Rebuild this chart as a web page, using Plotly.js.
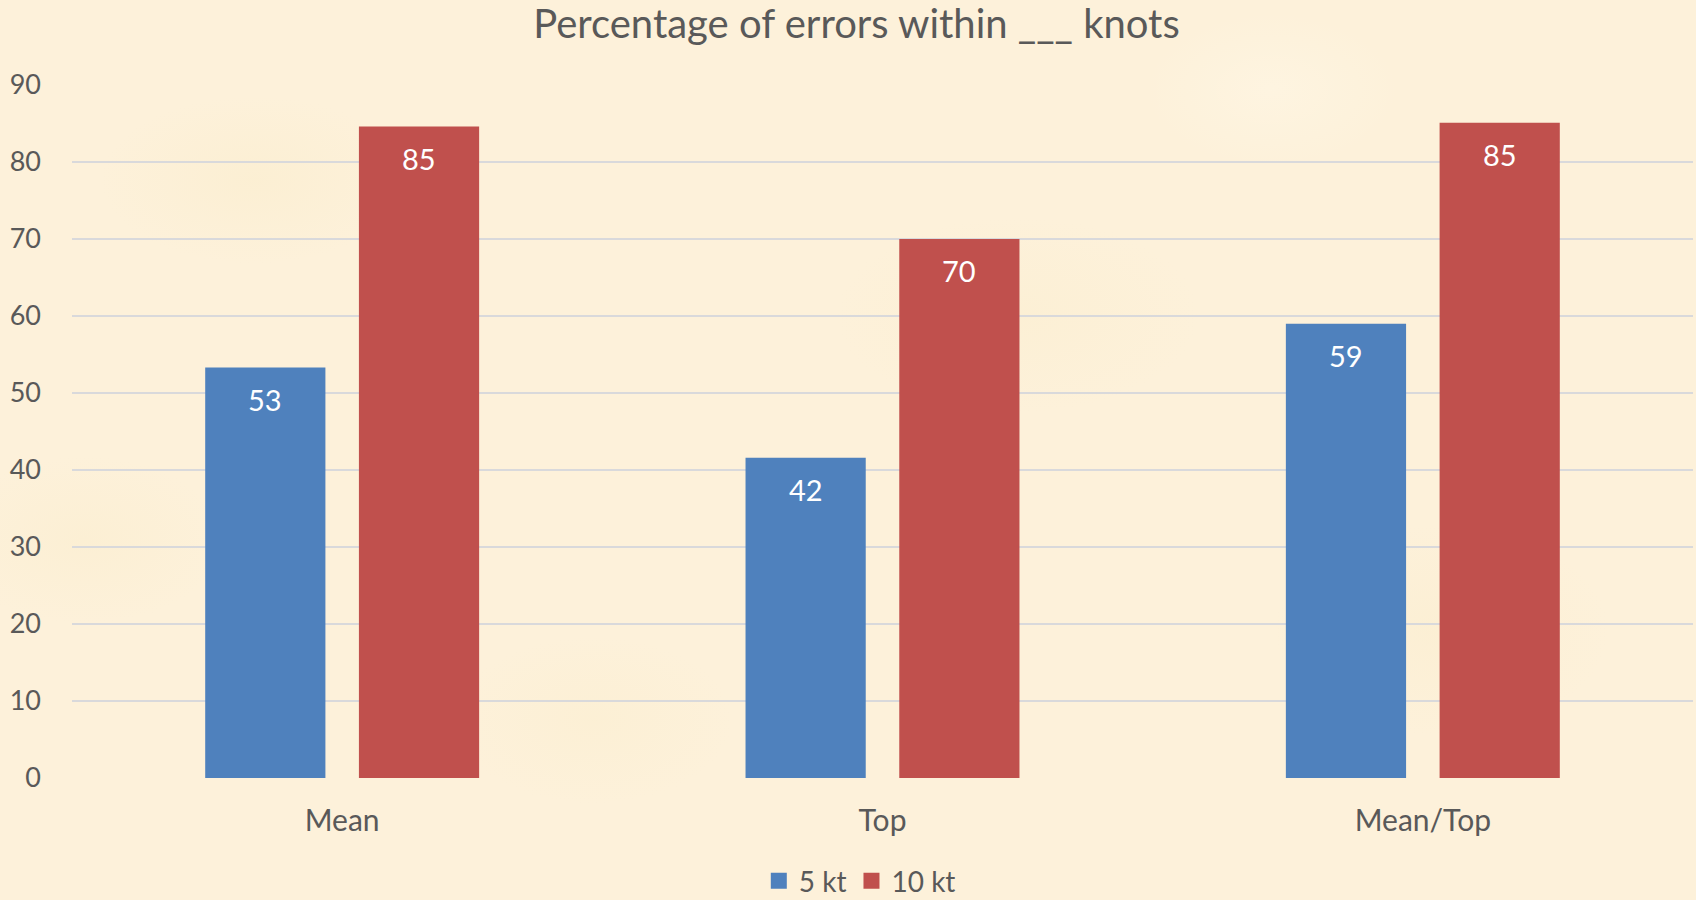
<!DOCTYPE html>
<html>
<head>
<meta charset="utf-8">
<script src="https://cdn.plot.ly/plotly-3.0.1.min.js"></script>
<style>
  html, body { margin: 0; padding: 0; }
  body {
    background-color: #FDF1DA;
    background-image:
      radial-gradient(ellipse 220px 120px at 15% 20%, rgba(247,232,190,0.25), rgba(247,232,190,0) 70%),
      radial-gradient(ellipse 260px 140px at 60% 35%, rgba(248,234,194,0.22), rgba(248,234,194,0) 70%),
      radial-gradient(ellipse 240px 150px at 85% 70%, rgba(247,232,190,0.22), rgba(247,232,190,0) 70%),
      radial-gradient(ellipse 200px 120px at 35% 80%, rgba(248,234,194,0.22), rgba(248,234,194,0) 70%),
      radial-gradient(ellipse 180px 110px at 75% 10%, rgba(255,248,232,0.45), rgba(255,248,232,0) 70%),
      radial-gradient(ellipse 200px 120px at 5% 60%, rgba(247,232,190,0.22), rgba(247,232,190,0) 70%);
  }
  #chart { width: 1696px; height: 900px; }
</style>
</head>
<body>
<div id="chart"></div>
<script>
const categories = ["Mean", "Top", "Mean/Top"];
const seriesNames = ["5 kt", "10 kt"];
const values5kt = [53.3, 41.6, 59.0];
const values10kt = [84.6, 70.0, 85.1];
const yTicks = [0, 10, 20, 30, 40, 50, 60, 70, 80, 90];

const FONT = "Lato, Open Sans, sans-serif";
const TEXT = "#595959";
const BLUE = "#4F81BD";
const RED = "#C0504D";
const BARGAP = 0.431;
const GROUPGAP = 0.218;

const traces = [
  { type: "bar", name: seriesNames[0], x: categories, y: values5kt,
    marker: { color: BLUE }, hoverinfo: "y", showlegend: false },
  { type: "bar", name: seriesNames[1], x: categories, y: values10kt,
    marker: { color: RED }, hoverinfo: "y", showlegend: false },
  // legend entries (square swatches)
  { type: "scatter", mode: "markers", name: seriesNames[0], x: [null], y: [null],
    marker: { symbol: "square", size: 16, color: BLUE }, showlegend: true },
  { type: "scatter", mode: "markers", name: seriesNames[1], x: [null], y: [null],
    marker: { symbol: "square", size: 16, color: RED }, showlegend: true }
];

const off = (1 - BARGAP) / 4;
const annotations = [];
[values5kt, values10kt].forEach((vals, s) => {
  vals.forEach((v, i) => {
    annotations.push({
      x: i + (s === 0 ? -off : off), y: v, xref: "x", yref: "y",
      text: String(Math.round(v)), showarrow: false,
      yanchor: "top", yshift: -12,
      font: { family: FONT, size: 29, color: "#FFFFFF" }
    });
  });
});

const layout = {
  width: 1696, height: 900,
  paper_bgcolor: "rgba(0,0,0,0)", plot_bgcolor: "rgba(0,0,0,0)",
  margin: { l: 72, r: 3, t: 85, b: 122, autoexpand: false },
  title: { text: "Percentage of errors within ___ knots", x: 0.505, xanchor: "center",
           y: 1 - 24 / 900, yanchor: "middle", yref: "container",
           font: { family: FONT, size: 40, color: TEXT } },
  barmode: "group", bargap: BARGAP, bargroupgap: GROUPGAP,
  xaxis: { type: "category", range: [-0.5, 2.5], showgrid: false, zeroline: false, showline: false,
           ticks: "", ticklabelstandoff: 22, automargin: false,
           tickfont: { family: FONT, size: 30, color: TEXT } },
  yaxis: { range: [0, 90], tickvals: yTicks, ticktext: yTicks.map(String),
           showgrid: true, gridcolor: "#D9D9DB", gridwidth: 1.5, automargin: false,
           zeroline: false, showline: false, ticks: "", ticklabelstandoff: 30,
           tickfont: { family: FONT, size: 27, color: TEXT } },
  showlegend: true,
  legend: { orientation: "h", x: 0.486, xanchor: "center",
            yref: "container", y: 1 - 881 / 900, yanchor: "middle",
            font: { family: FONT, size: 28, color: TEXT }, bgcolor: "rgba(0,0,0,0)",
            itemwidth: 30 },
  annotations: annotations
};

Plotly.newPlot("chart", traces, layout, { displayModeBar: false, staticPlot: true });
</script>
</body>
</html>
